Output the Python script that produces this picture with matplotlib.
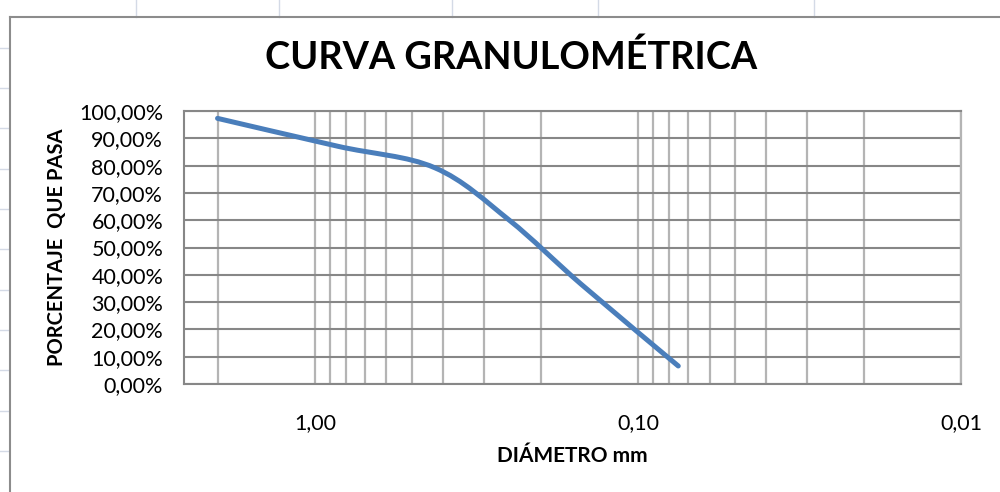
import numpy as np
import matplotlib
matplotlib.use("Agg")
import matplotlib.pyplot as plt
from matplotlib.path import Path
from matplotlib.patches import PathPatch
from matplotlib.lines import Line2D
from matplotlib.ticker import FixedLocator, LogLocator, FuncFormatter

plt.rcParams["font.family"] = ["Lato", "DejaVu Sans"]

# sieve opening (mm) and percent passing
diametro = [2.00, 0.85, 0.425, 0.25, 0.15, 0.075]
pasa = [97.3, 87.1, 79.2, 60.0, 36.6, 6.6]

x_ticks = [1.0, 0.1, 0.01]
x_labels = ["1,00", "0,10", "0,01"]
y_ticks = [0, 10, 20, 30, 40, 50, 60, 70, 80, 90, 100]

line_blue = "#4a7ebb"
grid_dark = "#878787"
grid_light = "#b4b4b4"

fig = plt.figure(figsize=(10, 4.92), dpi=100)
ax = fig.add_axes([0.184, 1 - 384 / 492, 0.777, 273 / 492])

ax.set_xscale("log")
ax.set_xlim(2.54, 0.01)
ax.set_ylim(0, 100)


# Excel-style smoothed line: cubic bezier segments built in (log x, y) space
def smooth_path(xs, ys):
    u = np.log10(xs)
    v = np.asarray(ys, dtype=float)
    n = len(u)
    verts = [(xs[0], v[0])]
    codes = [Path.MOVETO]
    for i in range(n - 1):
        i0 = max(i - 1, 0)
        i3 = min(i + 2, n - 1)
        c1u = u[i] + (u[i + 1] - u[i0]) / 6
        c1v = v[i] + (v[i + 1] - v[i0]) / 6
        c2u = u[i + 1] - (u[i3] - u[i]) / 6
        c2v = v[i + 1] - (v[i3] - v[i]) / 6
        verts += [(10 ** c1u, c1v), (10 ** c2u, c2v), (xs[i + 1], v[i + 1])]
        codes += [Path.CURVE4] * 3
    return Path(verts, codes)


curve = PathPatch(smooth_path(diametro, pasa), facecolor="none", edgecolor=line_blue,
                  linewidth=3.6, capstyle="round", joinstyle="round", zorder=3)
ax.add_patch(curve)

# axes ticks and grid
ax.xaxis.set_major_locator(FixedLocator(x_ticks))
ax.xaxis.set_minor_locator(LogLocator(base=10, subs=np.arange(2, 10)))
ax.xaxis.set_major_formatter(FuncFormatter(lambda val, pos: x_labels[x_ticks.index(val)] if val in x_ticks else ""))
ax.xaxis.set_minor_formatter(FuncFormatter(lambda val, pos: ""))
ax.yaxis.set_major_locator(FixedLocator(y_ticks))
ax.yaxis.set_major_formatter(FuncFormatter(lambda val, pos: f"{val:.2f}".replace(".", ",") + "%"))

ax.grid(True, axis="x", which="both", color=grid_light, linewidth=1.6)
ax.grid(True, axis="y", which="major", color=grid_dark, linewidth=1.5)
ax.set_axisbelow(True)

ax.tick_params(axis="both", which="both", length=0, labelsize=15.5, labelcolor="black")
ax.tick_params(axis="x", pad=21)
ax.tick_params(axis="y", pad=15)

for side in ["left", "bottom", "top"]:
    ax.spines[side].set_color(grid_dark)
    ax.spines[side].set_linewidth(1.5)
ax.spines["right"].set_color(grid_light)
ax.spines["right"].set_linewidth(1.6)

ax.set_xlabel("DIÁMETRO mm", fontsize=15, fontweight="bold", va="center")
ax.xaxis.set_label_coords(0.5, -72 / 273)
ax.set_ylabel("PORCENTAJE  QUE PASA", fontsize=14.5, fontweight="bold", va="center")
ax.yaxis.set_label_coords((57 - 184) / 777, 0.5)

fig.text(0.511, 1 - 57 / 492, "CURVA GRANULOMÉTRICA", fontsize=27.3, fontweight="bold",
         ha="center", va="center")

# spreadsheet cells behind the chart
sheet = "#d4dae6"
for xp in [136, 279, 452, 598, 814]:
    fig.add_artist(Line2D([xp / 1000, xp / 1000], [1, 1 - 17 / 492], color=sheet, linewidth=1))
for yp in [48, 88, 128, 169, 209, 249, 290, 330, 370, 411, 451]:
    fig.add_artist(Line2D([0, 9 / 1000], [1 - yp / 492, 1 - yp / 492], color=sheet, linewidth=1))

# chart area border
border = "#8c8c8c"
fig.add_artist(Line2D([10 / 1000, 10 / 1000], [0, 1 - 17 / 492], color=border, linewidth=1.5))
fig.add_artist(Line2D([10 / 1000, 1], [1 - 17 / 492, 1 - 17 / 492], color=border, linewidth=1.5))

fig.savefig("out.png", dpi=100)
